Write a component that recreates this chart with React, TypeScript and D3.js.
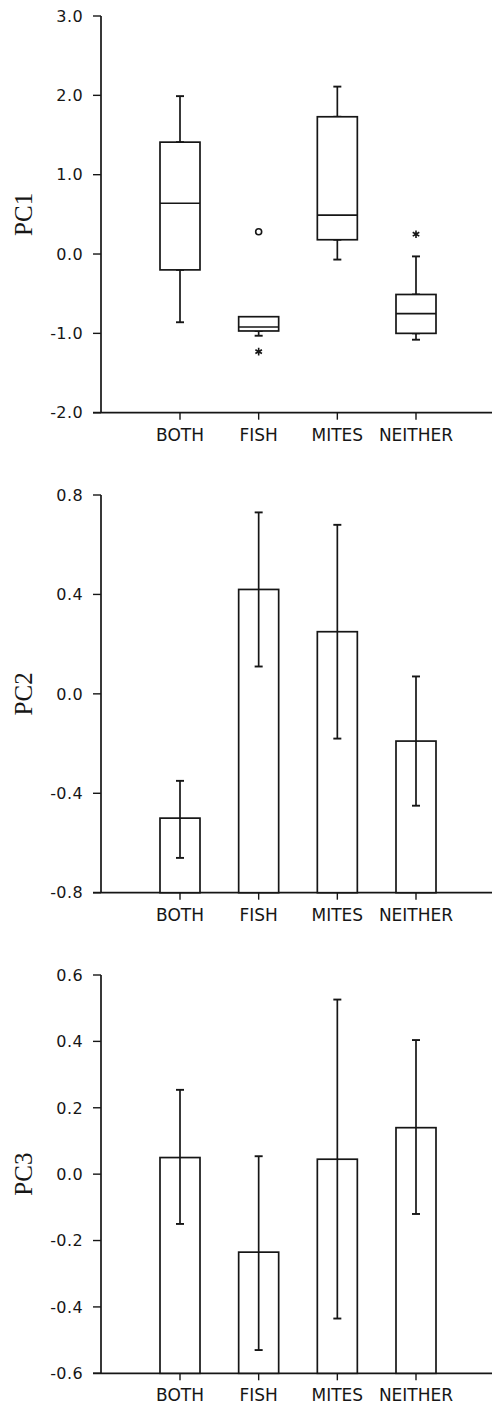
import React, { useRef, useEffect } from 'react';
import * as d3 from 'd3';

// groups along the x axis (same for every panel)
const categories = ['BOTH', 'FISH', 'MITES', 'NEITHER'];

// PC1 — box plot summaries
const pc1Low = [-0.86, -1.03, -0.07, -1.08];
const pc1Q1 = [-0.2, -0.97, 0.18, -1.0];
const pc1Median = [0.64, -0.92, 0.49, -0.75];
const pc1Q3 = [1.41, -0.79, 1.73, -0.51];
const pc1High = [1.99, -0.79, 2.11, -0.03];
// outliers: circle = outside 1.5 IQR, star = extreme
const pc1Outliers = [
  { cat: 'FISH', value: 0.28, kind: 'circle' },
  { cat: 'FISH', value: -1.23, kind: 'star' },
  { cat: 'NEITHER', value: 0.25, kind: 'star' },
];
const pc1Ticks = [-2, -1, 0, 1, 2, 3];

// PC2 — means with error bars
const pc2Mean = [-0.5, 0.42, 0.25, -0.19];
const pc2Lower = [-0.66, 0.11, -0.18, -0.45];
const pc2Upper = [-0.35, 0.73, 0.68, 0.07];
const pc2Ticks = [-0.8, -0.4, 0, 0.4, 0.8];

// PC3 — means with error bars
const pc3Mean = [0.05, -0.235, 0.045, 0.14];
const pc3Lower = [-0.15, -0.53, -0.435, -0.12];
const pc3Upper = [0.254, 0.054, 0.526, 0.404];
const pc3Ticks = [-0.6, -0.4, -0.2, 0, 0.2, 0.4, 0.6];

const WIDTH = 492;
const HEIGHT = 1405;
const INK = '#161616';

export default function App() {
  const svgRef = useRef<SVGSVGElement | null>(null);

  useEffect(() => {
    if (!svgRef.current) return;
    const svg = d3.select(svgRef.current);
    svg.selectAll('*').remove();

    const axisX = 101;
    const boxW = 40;
    const capW = 8;

    const x = d3.scalePoint<string>()
      .domain(categories)
      .range([180, 416]);

    // shared axis drawing for a panel
    const drawAxes = (y: d3.ScaleLinear<number, number>, ticks: number[], label: string) => {
      const [bottom, top] = y.range();
      const g = svg.append('g');

      g.append('line')
        .attr('x1', axisX).attr('x2', axisX)
        .attr('y1', top).attr('y2', bottom)
        .attr('stroke', INK).attr('stroke-width', 1.7);

      g.append('line')
        .attr('x1', axisX - 8).attr('x2', WIDTH)
        .attr('y1', bottom).attr('y2', bottom)
        .attr('stroke', INK).attr('stroke-width', 1.7);

      ticks.forEach(t => {
        g.append('line')
          .attr('x1', axisX - 8).attr('x2', axisX)
          .attr('y1', y(t)).attr('y2', y(t))
          .attr('stroke', INK).attr('stroke-width', 1.4);
        g.append('text')
          .attr('x', 83)
          .attr('y', y(t))
          .attr('dy', '0.36em')
          .attr('text-anchor', 'end')
          .attr('font-family', 'DejaVu Sans, sans-serif')
          .attr('font-size', 16)
          .attr('letter-spacing', 0.4)
          .attr('fill', INK)
          .text(t.toFixed(1));
      });

      categories.forEach(c => {
        g.append('line')
          .attr('x1', x(c)!).attr('x2', x(c)!)
          .attr('y1', bottom).attr('y2', bottom + 7)
          .attr('stroke', INK).attr('stroke-width', 1.4);
        g.append('text')
          .attr('x', x(c)!)
          .attr('y', bottom + 28)
          .attr('text-anchor', 'middle')
          .attr('font-family', 'DejaVu Sans, sans-serif')
          .attr('font-size', 17)
          .attr('fill', INK)
          .text(c);
      });

      g.append('text')
        .attr('transform', `translate(32, ${(top + bottom) / 2}) rotate(-90)`)
        .attr('text-anchor', 'middle')
        .attr('font-family', 'Liberation Serif, serif')
        .attr('font-size', 25)
        .attr('fill', INK)
        .text(label);
    };

    const errorBar = (g: any, cx: number, ya: number, yb: number) => {
      g.append('line')
        .attr('x1', cx).attr('x2', cx).attr('y1', ya).attr('y2', yb)
        .attr('stroke', INK).attr('stroke-width', 1.7);
      [ya, yb].forEach(yy => {
        g.append('line')
          .attr('x1', cx - capW / 2).attr('x2', cx + capW / 2)
          .attr('y1', yy).attr('y2', yy)
          .attr('stroke', INK).attr('stroke-width', 1.9);
      });
    };

    // ── PC1 box plot ──
    const y1 = d3.scaleLinear().domain([-2, 3]).range([412.7, 16]);
    drawAxes(y1, pc1Ticks, 'PC1');
    const g1 = svg.append('g');
    categories.forEach((c, i) => {
      const cx = x(c)!;
      // whiskers
      if (pc1High[i] > pc1Q3[i]) errorBar(g1, cx, y1(pc1High[i]), y1(pc1Q3[i]));
      errorBar(g1, cx, y1(pc1Q1[i]), y1(pc1Low[i]));
      g1.append('rect')
        .attr('x', cx - boxW / 2)
        .attr('y', y1(pc1Q3[i]))
        .attr('width', boxW)
        .attr('height', y1(pc1Q1[i]) - y1(pc1Q3[i]))
        .attr('fill', '#fff')
        .attr('stroke', INK).attr('stroke-width', 1.7);
      g1.append('line')
        .attr('x1', cx - boxW / 2).attr('x2', cx + boxW / 2)
        .attr('y1', y1(pc1Median[i])).attr('y2', y1(pc1Median[i]))
        .attr('stroke', INK).attr('stroke-width', 1.7);
    });
    pc1Outliers.forEach(o => {
      const cx = x(o.cat)!;
      if (o.kind === 'circle') {
        g1.append('circle')
          .attr('cx', cx).attr('cy', y1(o.value)).attr('r', 3)
          .attr('fill', 'none').attr('stroke', INK).attr('stroke-width', 1.6);
      } else {
        g1.append('path')
          .attr('transform', `translate(${cx}, ${y1(o.value)})`)
          .attr('d', d3.symbol(d3.symbolAsterisk, 40)())
          .attr('fill', 'none').attr('stroke', INK).attr('stroke-width', 1.6);
      }
    });

    // ── PC2 / PC3 bar charts ──
    const bars = (
      y: d3.ScaleLinear<number, number>,
      ticks: number[],
      label: string,
      mean: number[], lower: number[], upper: number[],
    ) => {
      drawAxes(y, ticks, label);
      const g = svg.append('g');
      const base = y.domain()[0];
      categories.forEach((c, i) => {
        const cx = x(c)!;
        g.append('rect')
          .attr('x', cx - boxW / 2)
          .attr('y', y(mean[i]))
          .attr('width', boxW)
          .attr('height', y(base) - y(mean[i]))
          .attr('fill', '#fff')
          .attr('stroke', INK).attr('stroke-width', 1.7);
        errorBar(g, cx, y(upper[i]), y(lower[i]));
      });
    };

    bars(d3.scaleLinear().domain([-0.8, 0.8]).range([892.7, 495]), pc2Ticks, 'PC2', pc2Mean, pc2Lower, pc2Upper);
    bars(d3.scaleLinear().domain([-0.6, 0.6]).range([1373.3, 975]), pc3Ticks, 'PC3', pc3Mean, pc3Lower, pc3Upper);
  }, []);

  return (
    <svg
      ref={svgRef}
      width={WIDTH}
      height={HEIGHT}
      style={{ position: 'absolute', left: 0, top: 0, background: '#fff' }}
    />
  );
}
